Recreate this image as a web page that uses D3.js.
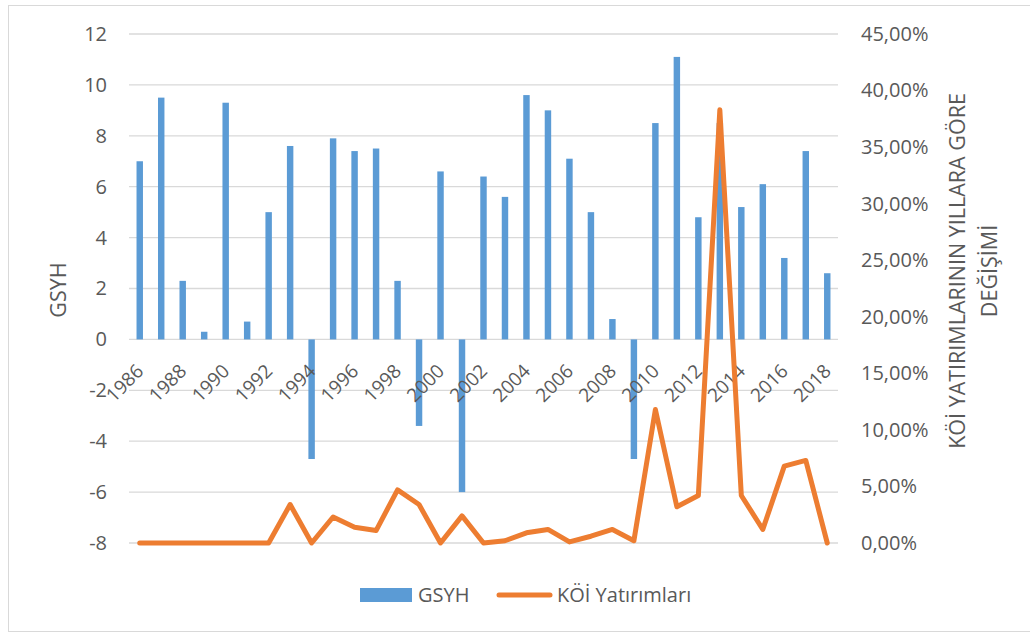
<!DOCTYPE html>
<html>
<head>
<meta charset="utf-8">
<script src="https://cdn.jsdelivr.net/npm/d3@7/dist/d3.min.js"></script>
<style>
  html, body { margin: 0; padding: 0; background: #fff; }
  svg { display: block; font-family: "Open Sans", "Noto Sans", sans-serif; }
</style>
</head>
<body>
<svg id="chart" width="1030" height="633"></svg>
<script>
// ---- data ----
const years = ["1986","1987","1988","1989","1990","1991","1992","1993","1994","1995","1996",
  "1997","1998","1999","2000","2001","2002","2003","2004","2005","2006","2007","2008","2009",
  "2010","2011","2012","2013","2014","2015","2016","2017","2018"];
const gsyh = [7.0, 9.5, 2.3, 0.3, 9.3, 0.7, 5.0, 7.6, -4.7, 7.9, 7.4,
  7.5, 2.3, -3.4, 6.6, -6.0, 6.4, 5.6, 9.6, 9.0, 7.1, 5.0, 0.8, -4.7,
  8.5, 11.1, 4.8, 8.5, 5.2, 6.1, 3.2, 7.4, 2.6];
const koi = [0.0, 0.0, 0.0, 0.0, 0.0, 0.0, 0.0, 3.4, 0.0, 2.3, 1.4,
  1.1, 4.7, 3.4, 0.0, 2.4, 0.0, 0.2, 0.9, 1.2, 0.1, 0.6, 1.2, 0.2,
  11.8, 3.2, 4.2, 38.3, 4.2, 1.2, 6.8, 7.3, 0.0];
const leftTicks = [-8, -6, -4, -2, 0, 2, 4, 6, 8, 10, 12];
const rightTicks = [0, 5, 10, 15, 20, 25, 30, 35, 40, 45];
const xLabelYears = years.filter((d, i) => i % 2 === 0);
const seriesNames = ["GSYH", "KÖİ Yatırımları"];
const leftTitle = "GSYH";
const rightTitleLines = ["KÖİ YATIRIMLARININ YILLARA GÖRE", "DEĞİŞİMİ"];

// ---- layout ----
const svg = d3.select("#chart");
const plot = { left: 129, right: 838, top: 34, bottom: 543 };
const blue = "#5B9BD5", orange = "#ED7D31", grid = "#D9D9D9", txt = "#595959";

// chart border
svg.append("rect").attr("x", 8.5).attr("y", 5.5).attr("width", 1040).attr("height", 626)
  .attr("fill", "none").attr("stroke", "#D9D9D9").attr("stroke-width", 1);

const x = d3.scaleBand().domain(years).range([plot.left, plot.right]).paddingInner(0.7).paddingOuter(0.35);
const yL = d3.scaleLinear().domain([-8, 12]).range([plot.bottom, plot.top]);
const yR = d3.scaleLinear().domain([0, 45]).range([plot.bottom, plot.top]);

// gridlines
svg.append("g").selectAll("line").data(leftTicks).join("line")
  .attr("x1", plot.left).attr("x2", plot.right)
  .attr("y1", d => yL(d)).attr("y2", d => yL(d))
  .attr("stroke", grid).attr("stroke-width", 1.3);

// left axis
const axL = svg.append("g").attr("transform", `translate(${plot.left - 22},0)`)
  .call(d3.axisLeft(yL).tickValues(leftTicks).tickFormat(d => String(d)).tickSize(0).tickPadding(0));
axL.select(".domain").remove();
axL.selectAll("text").attr("fill", txt).attr("font-size", 20).attr("font-family", '"Open Sans", sans-serif');

// right axis
const fmtPct = d => d3.format(".2f")(d).replace(".", ",") + "%";
const axR = svg.append("g").attr("transform", `translate(${plot.right + 23},0)`)
  .call(d3.axisRight(yR).tickValues(rightTicks).tickFormat(fmtPct).tickSize(0).tickPadding(0));
axR.select(".domain").remove();
axR.selectAll("text").attr("fill", txt).attr("font-size", 20).attr("font-family", '"Open Sans", sans-serif');

// bars
svg.append("g").selectAll("rect").data(years).join("rect")
  .attr("x", d => x(d))
  .attr("width", x.bandwidth())
  .attr("y", (d, i) => yL(Math.max(0, gsyh[i])))
  .attr("height", (d, i) => Math.abs(yL(gsyh[i]) - yL(0)))
  .attr("fill", blue);

// x labels (at the zero line)
svg.append("g").selectAll("text").data(xLabelYears).join("text")
  .attr("transform", d => `translate(${x(d) + x.bandwidth() / 2 + 5},${yL(0) + 33}) rotate(-45)`)
  .attr("text-anchor", "end")
  .attr("fill", txt).attr("font-size", 19)
  .text(d => d);

// line
const line = d3.line().x((d, i) => x(years[i]) + x.bandwidth() / 2).y(d => yR(d));
svg.append("path").datum(koi).attr("d", line)
  .attr("fill", "none").attr("stroke", orange).attr("stroke-width", 5)
  .attr("stroke-linejoin", "round").attr("stroke-linecap", "round");

// axis titles
svg.append("text").attr("transform", `translate(66,290) rotate(-90)`)
  .attr("text-anchor", "middle").attr("fill", txt).attr("font-size", 21.5).text(leftTitle);
const rt = svg.append("text").attr("transform", `translate(958,271) rotate(-90)`)
  .attr("text-anchor", "middle").attr("fill", txt).attr("font-size", 21.5);
rt.selectAll("tspan").data(rightTitleLines).join("tspan")
  .attr("x", 0).attr("y", (d, i) => 7 + i * 32).text(d => d);

// legend
const lg = svg.append("g");
lg.append("rect").attr("x", 360).attr("y", 588).attr("width", 52).attr("height", 14).attr("fill", blue);
lg.append("text").attr("x", 418).attr("y", 602).attr("fill", txt).attr("font-size", 20).text(seriesNames[0]);
lg.append("line").attr("x1", 499).attr("x2", 550).attr("y1", 595).attr("y2", 595)
  .attr("stroke", orange).attr("stroke-width", 5).attr("stroke-linecap", "round");
lg.append("text").attr("x", 557).attr("y", 602).attr("fill", txt).attr("font-size", 20).text(seriesNames[1]);
</script>
</body>
</html>
